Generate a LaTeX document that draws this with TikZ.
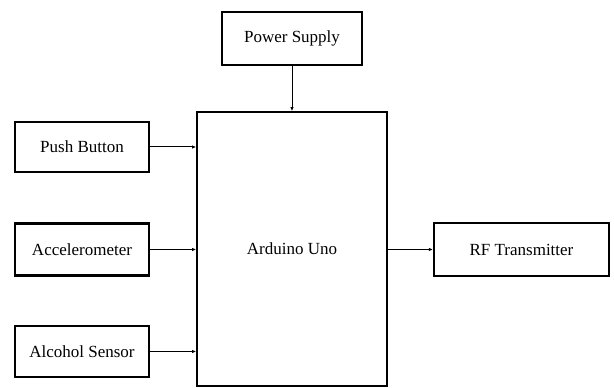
\documentclass[tikz,border=0pt]{standalone}
\usepackage{fontspec}
\setmainfont{Liberation Serif}
\usetikzlibrary{arrows.meta}
\begin{document}
\begin{tikzpicture}[x=1pt, y=1pt,
    block/.style={draw, line width=2.2pt, inner sep=0pt, font=\fontsize{17}{20}\selectfont},
    link/.style={-{Latex[length=4pt, width=3.5pt]}, line width=1pt}]
  \useasboundingbox (0,0) rectangle (614,388);
  % blocks
  \node[block, minimum width=140pt, minimum height=53pt] (power) at (292,349.5) {Power Supply};
  \node[block, line width=1.8pt, minimum width=190pt, minimum height=274pt] (arduino) at (292,139) {Arduino Uno};
  \node[block, minimum width=134pt, minimum height=50pt] (push) at (82,241) {Push Button};
  \node[block, minimum width=134pt, minimum height=52pt] (accel) at (82,138.5) {Accelerometer};
  \node[block, minimum width=134pt, minimum height=51pt] (alcohol) at (82,36.5) {Alcohol Sensor};
  \node[block, minimum width=175pt, minimum height=53pt] (rf) at (521.5,138.5) {RF Transmitter};
  % connections
  \draw[link] (power) -- (arduino);
  \draw[link] (push.east) -- (push.east -| arduino.west);
  \draw[link] (accel.east) -- (accel.east -| arduino.west);
  \draw[link] (alcohol.east) -- (alcohol.east -| arduino.west);
  \draw[link] (arduino.east |- rf.west) -- (rf.west);
\end{tikzpicture}
\end{document}
